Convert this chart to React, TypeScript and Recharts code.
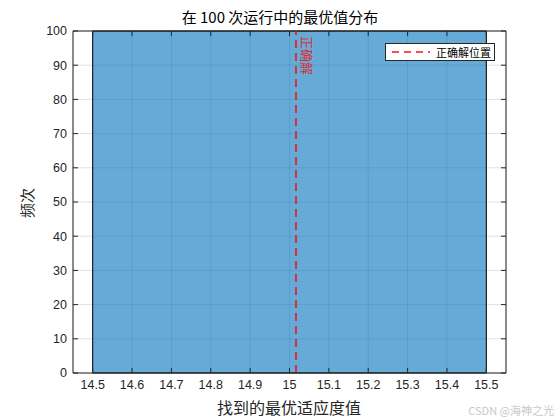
import React from "react"
import {
  ComposedChart,
  XAxis,
  YAxis,
  CartesianGrid,
  ReferenceArea,
  ReferenceLine,
  Line,
} from "recharts"

// histogram of best fitness found over 100 runs
const binEdges = [14.5, 15.5]
const binCounts = [100]
const correctValue = 15.0165

const xTicks = [14.5, 14.6, 14.7, 14.8, 14.9, 15, 15.1, 15.2, 15.3, 15.4, 15.5]
const yTicks = [0, 10, 20, 30, 40, 50, 60, 70, 80, 90, 100]
const xLim = [14.45, 15.55]
const yLim = [0, 100]

const title = "在 100 次运行中的最优值分布"
const xLabel = "找到的最优适应度值"
const yLabel = "频次"
const lineLabel = "正确解"
const legendLabel = "正确解位置"

const bins = binCounts.map((count, i) => ({ x1: binEdges[i], x2: binEdges[i + 1], count }))
const data = xLim.map((x) => ({ x }))

const numFont = "'Liberation Sans', Arial, sans-serif"
const cjkFont = "'Noto Sans CJK SC', 'Liberation Sans', sans-serif"
const axisColor = "#262626"

const fmt = (v: number) => String(Number(v.toFixed(1)))

// inward tick length in data units (top and right frame)
const tickY = 1.5
const tickX = 0.0127

export default function App() {
  return (
    <div style={{ position: "absolute", left: 0, top: 0, width: 560, height: 420, background: "#fff" }}>
      <ComposedChart width={560} height={420} data={data} margin={{ top: 31, right: 54, bottom: 20, left: 22 }}>
        <XAxis
          type="number"
          dataKey="x"
          domain={xLim}
          ticks={xTicks}
          tickFormatter={fmt}
          allowDataOverflow
          height={27}
          stroke={axisColor}
          tickSize={-5}
          tickMargin={12}
          tick={{ fill: axisColor, fontSize: 12.5, fontFamily: numFont }}
        />
        <YAxis
          type="number"
          domain={yLim}
          ticks={yTicks}
          width={51}
          stroke={axisColor}
          tickSize={-5}
          tickMargin={11}
          tick={{ fill: axisColor, fontSize: 12.5, fontFamily: numFont }}
        />
        {bins.map((b, i) => (
          <ReferenceArea
            key={i}
            x1={b.x1}
            x2={b.x2}
            y1={0}
            y2={b.count}
            fill="#0072BD"
            fillOpacity={0.6}
            stroke="#000"
            strokeWidth={1}
            strokeOpacity={1}
            ifOverflow="visible"
          />
        ))}
        <CartesianGrid stroke={axisColor} strokeOpacity={0.14} />
        <ReferenceLine y={yLim[1]} stroke={axisColor} strokeWidth={1} ifOverflow="visible" />
        <ReferenceLine x={xLim[1]} stroke={axisColor} strokeWidth={1} ifOverflow="visible" />
        {xTicks.map((t) => (
          <ReferenceLine
            key={"tx" + t}
            segment={[{ x: t, y: yLim[1] }, { x: t, y: yLim[1] - tickY }]}
            stroke={axisColor}
            ifOverflow="visible"
          />
        ))}
        {yTicks.map((t) => (
          <ReferenceLine
            key={"ty" + t}
            segment={[{ x: xLim[1], y: t }, { x: xLim[1] - tickX, y: t }]}
            stroke={axisColor}
            ifOverflow="visible"
          />
        ))}
        <ReferenceLine
          x={correctValue}
          stroke="#ff0000"
          strokeOpacity={0.7}
          strokeWidth={2}
          strokeDasharray="8 5"
          label={(props: any) => {
            const vb = props.viewBox || {}
            const x = (vb.x ?? 0) + 6
            const y = (vb.y ?? 0) + 5
            return (
              <text
                x={x}
                y={y}
                transform={`rotate(90 ${x} ${y})`}
                fill="#ff0000"
                fillOpacity={0.75}
                fontSize={13}
                fontFamily={cjkFont}
              >
                {lineLabel}
              </text>
            )
          }}
        />
        <Line dataKey="x" stroke="none" dot={false} isAnimationActive={false} />
      </ComposedChart>

      <div style={{ position: "absolute", left: 0, width: 560, top: 7, textAlign: "center", fontFamily: cjkFont, fontSize: 15, color: "#000", lineHeight: "20px" }}>
        {title}
      </div>
      <div style={{ position: "absolute", left: 73, width: 432, top: 396, textAlign: "center", fontFamily: cjkFont, fontSize: 16, color: axisColor, lineHeight: "22px" }}>
        {xLabel}
      </div>
      <div
        style={{
          position: "absolute",
          left: 27,
          top: 203,
          transform: "translate(-50%, -50%) rotate(-90deg)",
          fontFamily: cjkFont,
          fontSize: 15,
          color: axisColor,
          whiteSpace: "nowrap",
          lineHeight: "18px",
        }}
      >
        {yLabel}
      </div>
      <div
        style={{
          position: "absolute",
          left: 385,
          top: 43,
          width: 110,
          height: 18,
          background: "#fff",
          border: "1px solid #262626",
          boxSizing: "border-box",
          display: "flex",
          alignItems: "center",
          fontFamily: cjkFont,
          fontSize: 11,
          color: "#000",
        }}
      >
        <svg width={44} height={10} style={{ marginLeft: 4 }}>
          <line x1={2} y1={5} x2={40} y2={5} stroke="#ff0000" strokeOpacity={0.7} strokeWidth={2} strokeDasharray="7 5" />
        </svg>
        <span style={{ marginLeft: 2 }}>{legendLabel}</span>
      </div>
      <div style={{ position: "absolute", right: 6, top: 402, fontFamily: cjkFont, fontSize: 11, color: "#c8c8c8" }}>
        CSDN @海神之光
      </div>
    </div>
  )
}
